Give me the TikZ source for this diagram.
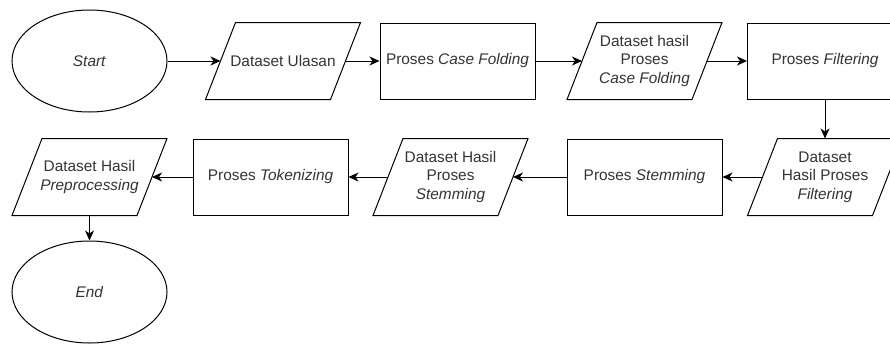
\documentclass[tikz,border=0pt]{standalone}
\usepackage{fontspec}
\setmainfont{Liberation Sans}
\usetikzlibrary{shapes.geometric,arrows.meta}
\definecolor{teks}{HTML}{333333}
\tikzset{
terminal/.style={ellipse,draw,minimum width=155,minimum height=102,inner sep=0},
data/.style={rectangle,minimum width=124,minimum height=76,inner sep=0,align=center},
proses/.style={rectangle,draw,minimum width=155,minimum height=76,inner sep=0,align=center}
}
\begin{document}
\begin{tikzpicture}[x=1pt,y=-1pt,>={Stealth[length=10pt,width=9pt,inset=3pt]},line width=1pt,every node/.style={font=\fontsize{15.4}{18.3}\selectfont,text=teks}]
\path[use as bounding box,clip] (0,0) rectangle (890,343);
\node[terminal] (start) at (89.5,61) {\textit{Start}};
\node[data] (ulasan) at (283,61) {Dataset Ulasan};
\node[proses] (casefold) at (457.5,61) {Proses \textit{Case Folding}};
\node[data] (hasilcf) at (644.5,61) {Dataset hasil\\Proses\\\textit{Case Folding}};
\node[proses] (filter) at (825,61) {Proses \textit{Filtering}};
\node[data] (hasilfil) at (825,177) {Dataset\\Hasil Proses\\\textit{Filtering}};
\node[proses] (stem) at (644.5,177) {Proses \textit{Stemming}};
\node[data] (hasilstem) at (450.5,177) {Dataset Hasil\\Proses\\\textit{Stemming}};
\node[proses] (token) at (270.5,177) {Proses \textit{Tokenizing}};
\node[data] (hasilpre) at (89.5,177) {Dataset Hasil\\\textit{Preprocessing}};
\node[terminal] (end) at (89.5,292) {\textit{End}};
\foreach \n in {ulasan,hasilcf,hasilfil,hasilstem,hasilpre}
  \draw ([xshift=-15]\n.south west) -- ([xshift=15]\n.north west) -- ([xshift=15]\n.north east) -- ([xshift=-15]\n.south east) -- cycle;
\draw[->] (start) -- (ulasan);
\draw[->] (ulasan) -- (casefold);
\draw[->] (casefold) -- (hasilcf);
\draw[->] (hasilcf) -- (filter);
\draw[->] (filter) -- (hasilfil);
\draw[->] (hasilfil) -- (stem);
\draw[->] (stem) -- (hasilstem);
\draw[->] (hasilstem) -- (token);
\draw[->] (token) -- (hasilpre);
\draw[->] (hasilpre) -- (end);
\end{tikzpicture}
\end{document}
